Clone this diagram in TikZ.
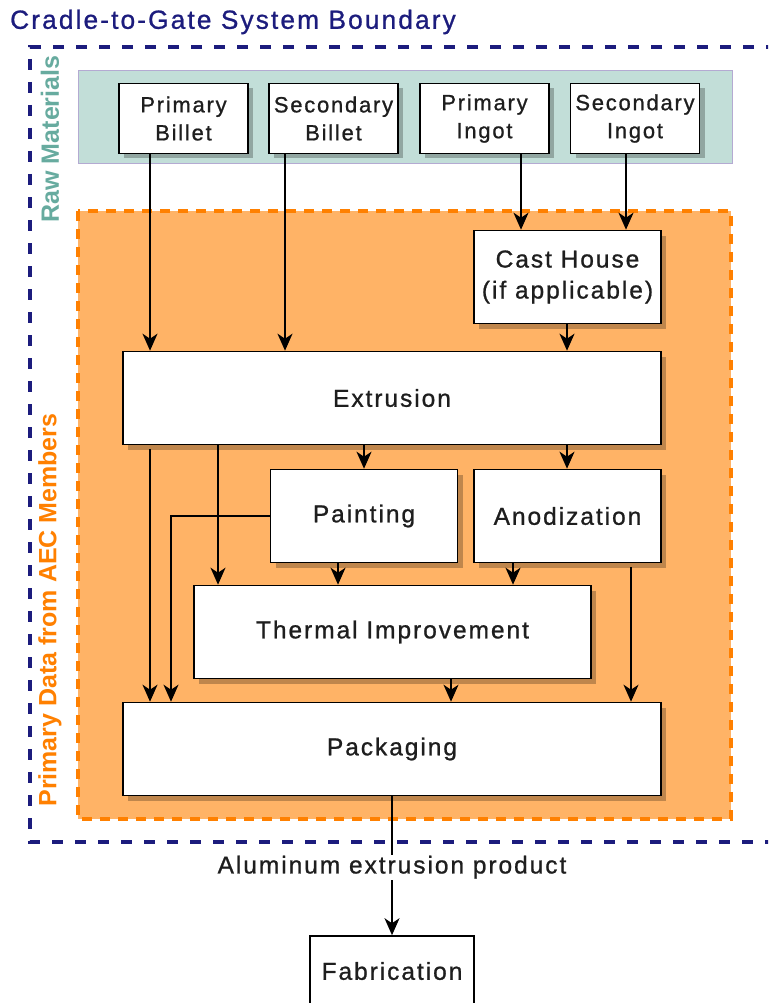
\documentclass[tikz,border=0pt]{standalone}
\usepackage{fontspec}
\usetikzlibrary{arrows.meta,shadows}
\newfontfamily\nf{Liberation Sans}[LetterSpace=8,FakeBold=0.9]
\newfontfamily\lf{Liberation Sans}
\definecolor{navy}{RGB}{28,28,125}
\definecolor{tealfill}{RGB}{194,222,216}
\definecolor{tealtext}{RGB}{103,171,159}
\definecolor{lav}{RGB}{180,170,210}
\definecolor{orfill}{RGB}{255,179,102}
\definecolor{orline}{RGB}{255,128,0}
\definecolor{txt}{RGB}{30,30,30}
\tikzset{
  plainbox/.style={draw=black, line width=1.6pt, fill=white, inner sep=0pt,
    align=center, text=txt, font=\nf\fontsize{24.5}{31}\selectfont},
  box/.style={plainbox,
    drop shadow={shadow xshift=5pt, shadow yshift=-5pt, opacity=0.25, fill=black}},
  rawbox/.style={box, minimum width=129pt, minimum height=70pt,
    font=\nf\fontsize{22}{28}\selectfont},
  conn/.style={line width=1.6pt, draw=black, -{Stealth[length=17pt,width=15pt,inset=5pt]}},
  vlabel/.style={rotate=90, font=\lf\bfseries\fontsize{25}{30}\selectfont, inner sep=0pt},
}
\begin{document}
\begin{tikzpicture}[x=1pt,y=-1pt]
\useasboundingbox (0,0) rectangle (768,1003);
\clip (0,0) rectangle (768,1003);
\fill[white] (0,0) rectangle (768,1003);
% title
\node[anchor=west, text=navy, font=\nf\fontsize{26.3}{30}\selectfont, inner sep=0pt] (title) at (10,22) {Cradle-to-Gate System Boundary};
% raw materials band
\draw[fill=tealfill, draw=lav, line width=1pt] (78,71) rectangle (732,164);
% orange region
\draw[fill=orfill, draw=orline, line width=3.5pt, dash pattern=on 10pt off 8pt] (78,211) rectangle (731,819);
% system boundary
\draw[navy, line width=4pt, dash pattern=on 11pt off 12pt] (800,47) -- (30,47) -- (30,842) -- (800,842);
% side labels
\node[vlabel, text=tealtext] (rawlbl) at (50,139) {Raw Materials};
\node[vlabel, text=orline] (pdlbl) at (50,610) {Primary Data from AEC Members};
% raw material boxes
\node[rawbox] (pb) at (183.5,118.5) {Primary\\Billet};
\node[rawbox] (sb) at (333.5,118.5) {Secondary\\Billet};
\node[rawbox] (pi) at (484.5,118.5) {Primary\\Ingot};
\node[rawbox] (si) at (635,118.5) {Secondary\\Ingot};
% process boxes
\node[box, minimum width=187pt, minimum height=93pt] (ch) at (567.5,277) {Cast House\\(if applicable)};
\node[box, minimum width=538pt, minimum height=93pt] (ex) at (392,398) {Extrusion};
\node[box, minimum width=187pt, minimum height=93pt] (pa) at (364,516) {Painting};
\node[box, minimum width=187pt, minimum height=93pt] (an) at (567.5,516) {Anodization};
\node[box, minimum width=397pt, minimum height=93pt] (th) at (392.5,632) {Thermal Improvement};
\node[box, minimum width=538pt, minimum height=93pt] (pk) at (392,749) {Packaging};
\node[plainbox, minimum width=164pt, minimum height=70pt] (fab) at (392,971) {Fabrication};
% connectors
\draw[conn] (pb.south -| 150,0) -- (ex.north -| 150,0);
\draw[conn] (sb.south -| 285,0) -- (ex.north -| 285,0);
\draw[conn] (pi.south -| 521,0) -- (ch.north -| 521,0);
\draw[conn] (si.south -| 626,0) -- (ch.north -| 626,0);
\draw[conn] (ch.south -| 567,0) -- (ex.north -| 567,0);
\draw[conn] (ex.south -| 364,0) -- (pa.north -| 364,0);
\draw[conn] (ex.south -| 567,0) -- (an.north -| 567,0);
\draw[conn] (ex.south -| 218,0) -- (th.north -| 218,0);
\draw[conn] ([yshift=-4pt]ex.south -| 150,0) -- (pk.north -| 150,0);
\draw[conn] (pa.west) -- (171,516) -- (pk.north -| 171,0);
\draw[conn] (pa.south -| 338,0) -- (th.north -| 338,0);
\draw[conn] (an.south -| 513,0) -- (th.north -| 513,0);
\draw[conn] ([yshift=-4pt]an.south -| 631,0) -- (pk.north -| 631,0);
\draw[conn] (th.south -| 451,0) -- (pk.north -| 451,0);
\draw[conn] (pk.south) -- (fab.north)
  node[pos=0.51, fill=white, inner sep=1pt, text=txt, font=\nf\fontsize{24.5}{30}\selectfont] (prod) {Aluminum extrusion product};
\end{tikzpicture}
\end{document}
